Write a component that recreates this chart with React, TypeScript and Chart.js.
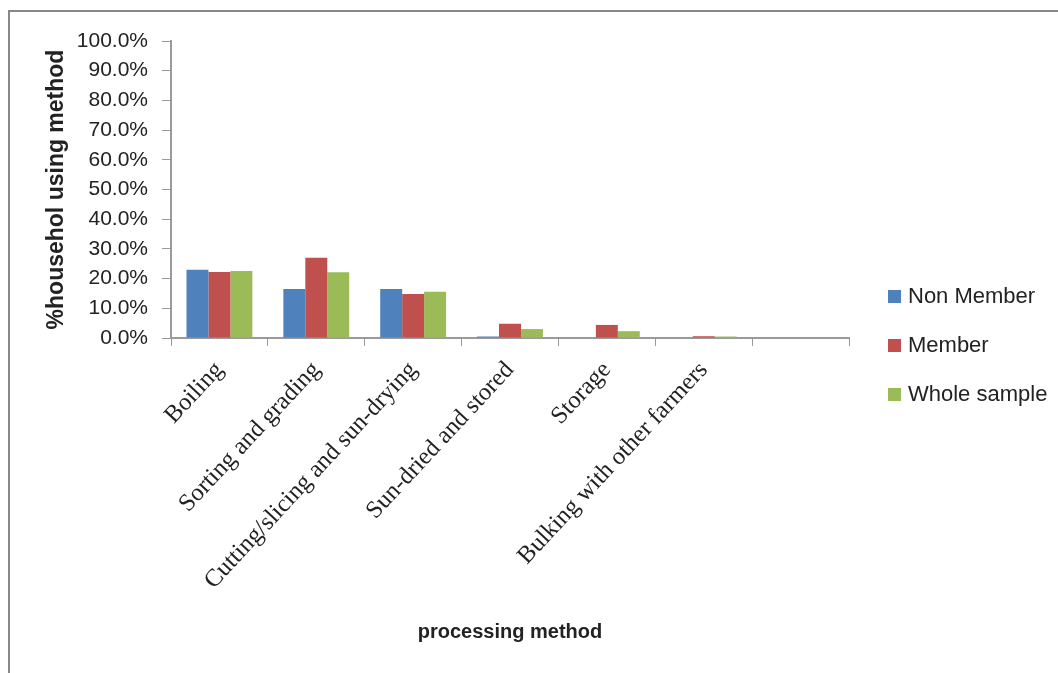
import React, { useEffect, useRef } from "react";
import { Chart, registerables } from "chart.js";

Chart.register(...registerables);

// Processing methods (the last slot is an empty category)
const categories = [
  "Boiling",
  "Sorting and grading",
  "Cutting/slicing and sun-drying",
  "Sun-dried and stored",
  "Storage",
  "Bulking with other farmers",
  "",
];

// Share of households using each method (%)
const nonMember = [23.0, 16.5, 16.5, 0.5, 0, 0, 0];
const member = [22.2, 27.0, 14.8, 4.8, 4.4, 0.6, 0];
const wholeSample = [22.6, 22.1, 15.6, 3.0, 2.3, 0.5, 0];

const seriesNames = ["Non Member", "Member", "Whole sample"];
const seriesColors = ["#4F81BD", "#C0504D", "#9BBB59"];

const yTicks = [0, 10, 20, 30, 40, 50, 60, 70, 80, 90, 100];

const axisColor = "#9a9a9a";
const textColor = "#222222";

export default function App() {
  const canvasRef = useRef<HTMLCanvasElement | null>(null);

  useEffect(() => {
    const canvas = canvasRef.current;
    if (!canvas) return;
    const values = [nonMember, member, wholeSample];
    const chart = new Chart(canvas, {
      type: "bar",
      data: {
        labels: categories,
        datasets: seriesNames.map((name, i) => ({
          label: name,
          data: values[i],
          backgroundColor: seriesColors[i],
          borderWidth: 0,
          categoryPercentage: 0.68,
          barPercentage: 1.0,
        })),
      },
      options: {
        responsive: false,
        animation: false,
        layout: { padding: { left: 22, right: 209, top: 41, bottom: 10 } },
        plugins: {
          legend: { display: false },
          tooltip: { enabled: false },
        },
        scales: {
          x: {
            afterFit: (s: any) => {
              s.height = 325;
            },
            grid: {
              display: true,
              drawOnChartArea: false,
              drawTicks: true,
              tickLength: 8,
              color: axisColor,
              offset: true,
            },
            border: { display: true, color: axisColor, width: 2 },
            ticks: {
              minRotation: 47,
              maxRotation: 47,
              autoSkip: false,
              padding: 10,
              color: textColor,
              font: { family: "'Liberation Serif', 'Times New Roman', serif", size: 24.5 },
            },
            title: {
              display: true,
              text: "processing method",
              color: textColor,
              padding: { top: 0, bottom: 19 },
              font: { family: "'Liberation Sans', Arial, sans-serif", size: 20, weight: "bold" },
            },
          },
          y: {
            min: 0,
            max: 100,
            afterFit: (s: any) => {
              s.width = 149;
            },
            afterBuildTicks: (s: any) => {
              s.ticks = yTicks.map((v) => ({ value: v }));
            },
            grid: {
              display: true,
              drawOnChartArea: false,
              drawTicks: true,
              tickLength: 9,
              color: axisColor,
            },
            border: { display: true, color: axisColor, width: 2 },
            ticks: {
              padding: 14,
              color: textColor,
              font: { family: "'Liberation Sans', Arial, sans-serif", size: 21 },
              callback: (v: any) => Number(v).toFixed(1) + "%",
            },
            title: {
              display: true,
              text: "%househol using method",
              color: textColor,
              padding: { top: 21, bottom: 0 },
              font: { family: "'Liberation Sans', Arial, sans-serif", size: 23, weight: "bold" },
            },
          },
        },
      },
    });
    return () => chart.destroy();
  }, []);

  const legendTops = [296, 345, 394];

  return (
    <div>
      <div
        style={{
          position: "fixed",
          left: 8,
          top: 10,
          right: -20,
          bottom: -20,
          borderLeft: "2px solid #888888",
          borderTop: "2px solid #888888",
          background: "#ffffff",
        }}
      />
      <canvas
        ref={canvasRef}
        width={1058}
        height={673}
        style={{ position: "fixed", left: 0, top: 0, width: 1058, height: 673 }}
      />
      {seriesNames.map((name, i) => (
        <div
          key={name}
          style={{
            position: "fixed",
            left: 888,
            top: legendTops[i] - 14,
            height: 28,
            display: "flex",
            alignItems: "center",
            fontFamily: "'Liberation Sans', Arial, sans-serif",
            fontSize: 22,
            color: textColor,
            whiteSpace: "nowrap",
          }}
        >
          <span
            style={{
              display: "inline-block",
              width: 13,
              height: 13,
              background: seriesColors[i],
              marginRight: 7,
            }}
          />
          <span>{name}</span>
        </div>
      ))}
    </div>
  );
}
